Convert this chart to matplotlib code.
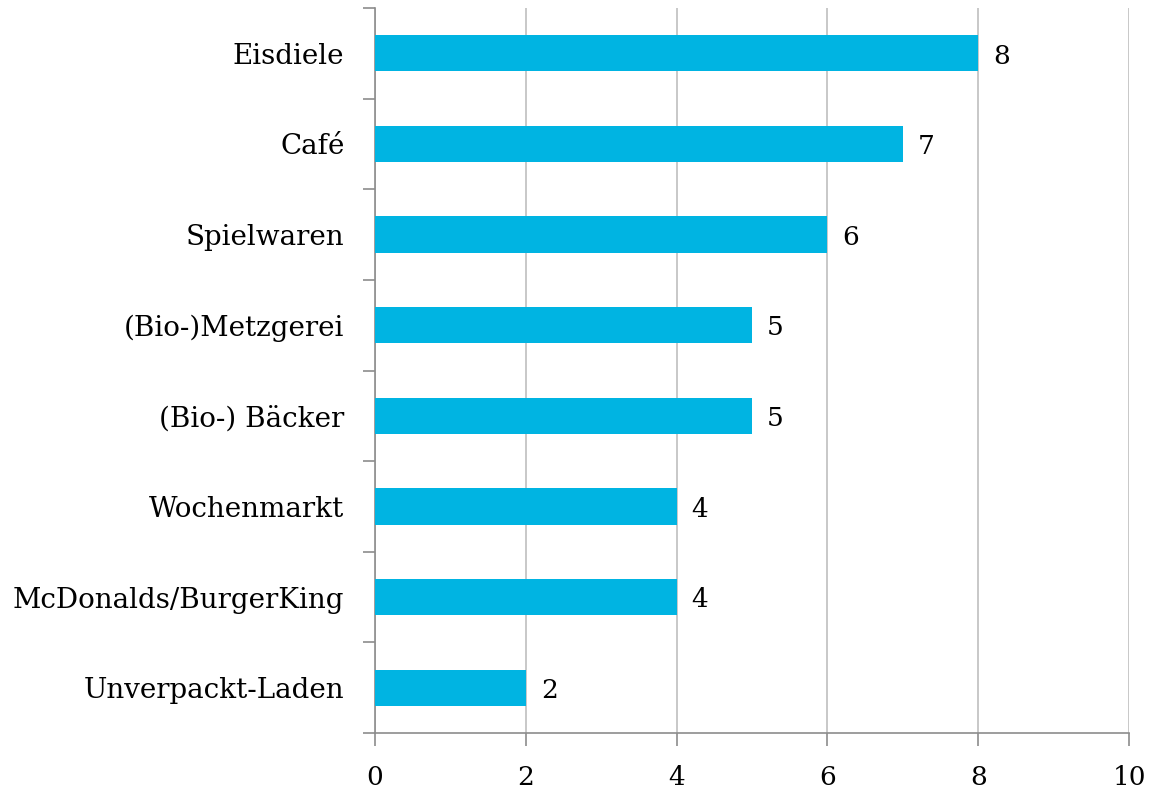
import matplotlib.pyplot as plt
import numpy as np

categories = ["Eisdiele", "Café", "Spielwaren", "(Bio-)Metzgerei", "(Bio-) Bäcker",
              "Wochenmarkt", "McDonalds/BurgerKing", "Unverpackt-Laden"]
values = [8, 7, 6, 5, 5, 4, 4, 2]
xticks = [0, 2, 4, 6, 8, 10]

plt.rcParams['font.family'] = ['DejaVu Serif']

fig = plt.figure(figsize=(11.49, 7.92), dpi=100)
ax = fig.add_axes([375 / 1149, 1 - 733 / 792, (1129 - 375) / 1149, (733 - 8) / 792])

n = len(categories)
ypos = np.arange(n)[::-1]
ax.barh(ypos, values, height=0.4, color="#00B4E2", zorder=3)
for y, v in zip(ypos, values):
    ax.text(v + 0.2, y - 0.03, str(v), va="center", ha="left", fontsize=19, color="black")

ax.set_xlim(0, 10)
ax.set_ylim(-0.5, n - 0.5)
ax.set_xticks(xticks)
ax.set_xticklabels([str(t) for t in xticks], fontsize=19)
ax.set_yticks(ypos)
ax.set_yticklabels(categories, fontsize=20)
ax.set_yticks(np.arange(n + 1) - 0.5, minor=True)

ax.grid(axis="x", color="#BFBFBF", linewidth=1.2, zorder=0)
for s in ["top", "right"]:
    ax.spines[s].set_visible(False)
for s in ["left", "bottom"]:
    ax.spines[s].set_color("#8C8C8C")
    ax.spines[s].set_linewidth(1.2)

ax.tick_params(axis="y", which="major", length=0, pad=22)
ax.tick_params(axis="y", which="minor", length=9, color="#8C8C8C", width=1.2)
ax.tick_params(axis="x", length=9, color="#8C8C8C", width=1.2, pad=14)

fig.savefig("out.png", dpi=100)
